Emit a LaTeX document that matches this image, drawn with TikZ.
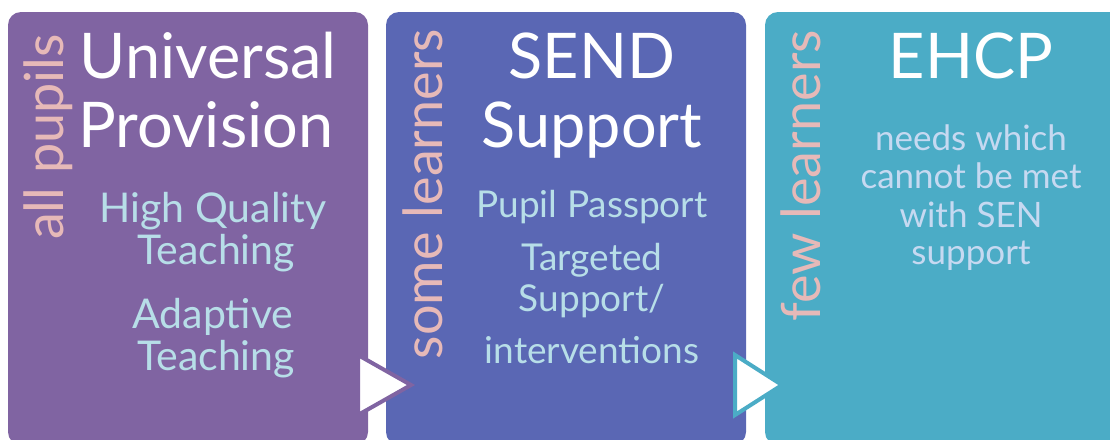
\documentclass[tikz,border=0pt]{standalone}
\usepackage{fontspec}
\setmainfont{Lato}
\definecolor{boxpurple}{HTML}{8064A2}
\definecolor{boxblue}{HTML}{5A67B4}
\definecolor{boxteal}{HTML}{4BACC6}
\definecolor{pinktxt}{HTML}{E6B9B8}
\definecolor{bodytxt}{HTML}{B7DEE8}
\definecolor{bodytxtb}{HTML}{C6D9F1}
\begin{document}
\begin{tikzpicture}[x=1pt,y=-1pt,
  panel/.style={rounded corners=13pt},
  titletxt/.style={anchor=base,inner sep=0pt,text=white,font=\fontsize{63}{70}\selectfont},
  sidetxt/.style={anchor=base,inner sep=0pt,rotate=90,text=pinktxt,font=\fontsize{54}{60}\selectfont},
  bodyone/.style={anchor=base,inner sep=0pt,text=bodytxt,font=\fontsize{41}{45}\selectfont},
  bodytwo/.style={anchor=base,inner sep=0pt,text=bodytxt,font=\fontsize{37}{41}\selectfont},
  bodythree/.style={anchor=base,inner sep=0pt,text=bodytxtb,font=\fontsize{35}{39}\selectfont},
  flowtri/.style={line width=4pt,fill=white,line join=miter}]
\useasboundingbox (0,0) rectangle (1110,439);
\clip (0,0) rectangle (1110,439);
% panels
\fill[panel,boxpurple] (8,12) rectangle (368,445);
\fill[panel,boxblue] (386,12) rectangle (746,445);
\fill[panel,boxteal] (765,12) rectangle (1130,445);
% panel 1
\node[sidetxt] (s1) at (63,137) {all pupils};
\node[titletxt] (t1a) at (208,78) {Universal};
\node[titletxt] (t1b) at (206,147) {Provision};
\node[bodyone] (b1a) at (213,222) {High Quality};
\node[bodyone] (b1b) at (216,264) {Teaching};
\node[bodyone] (b1c) at (213,328) {Adaptive};
\node[bodyone] (b1d) at (216,370) {Teaching};
% panel 2
\node[sidetxt] (s2) at (442,194) {some learners};
\node[titletxt] (t2a) at (592,78) {SEND};
\node[titletxt] (t2b) at (592,147) {Support};
\node[bodytwo] (b2a) at (592,217) {Pupil Passport};
\node[bodytwo] (b2b) at (592,270) {Targeted};
\node[bodytwo] (b2c) at (592,311) {Support/};
\node[bodytwo] (b2d) at (592,363) {interventions};
% panel 3
\node[sidetxt] (s3) at (820,176) {few learners};
\node[titletxt] (t3a) at (971,78) {EHCP};
\node[bodythree] (b3a) at (971,150) {needs which};
\node[bodythree] (b3b) at (971,188) {cannot be met};
\node[bodythree] (b3c) at (971,227) {with SEN};
\node[bodythree] (b3d) at (971,264) {support};
% arrows
\coordinate (a1l) at (358,355);
\coordinate (a1b) at (358,415);
\coordinate (a1t) at (411,385);
\filldraw[flowtri,draw=boxpurple] (a1l) -- (a1t) -- (a1b) -- cycle;
\coordinate (a2l) at (735,355);
\coordinate (a2b) at (735,415);
\coordinate (a2t) at (782,385);
\filldraw[flowtri,draw=boxteal] (a2l) -- (a2t) -- (a2b) -- cycle;
\end{tikzpicture}
\end{document}
